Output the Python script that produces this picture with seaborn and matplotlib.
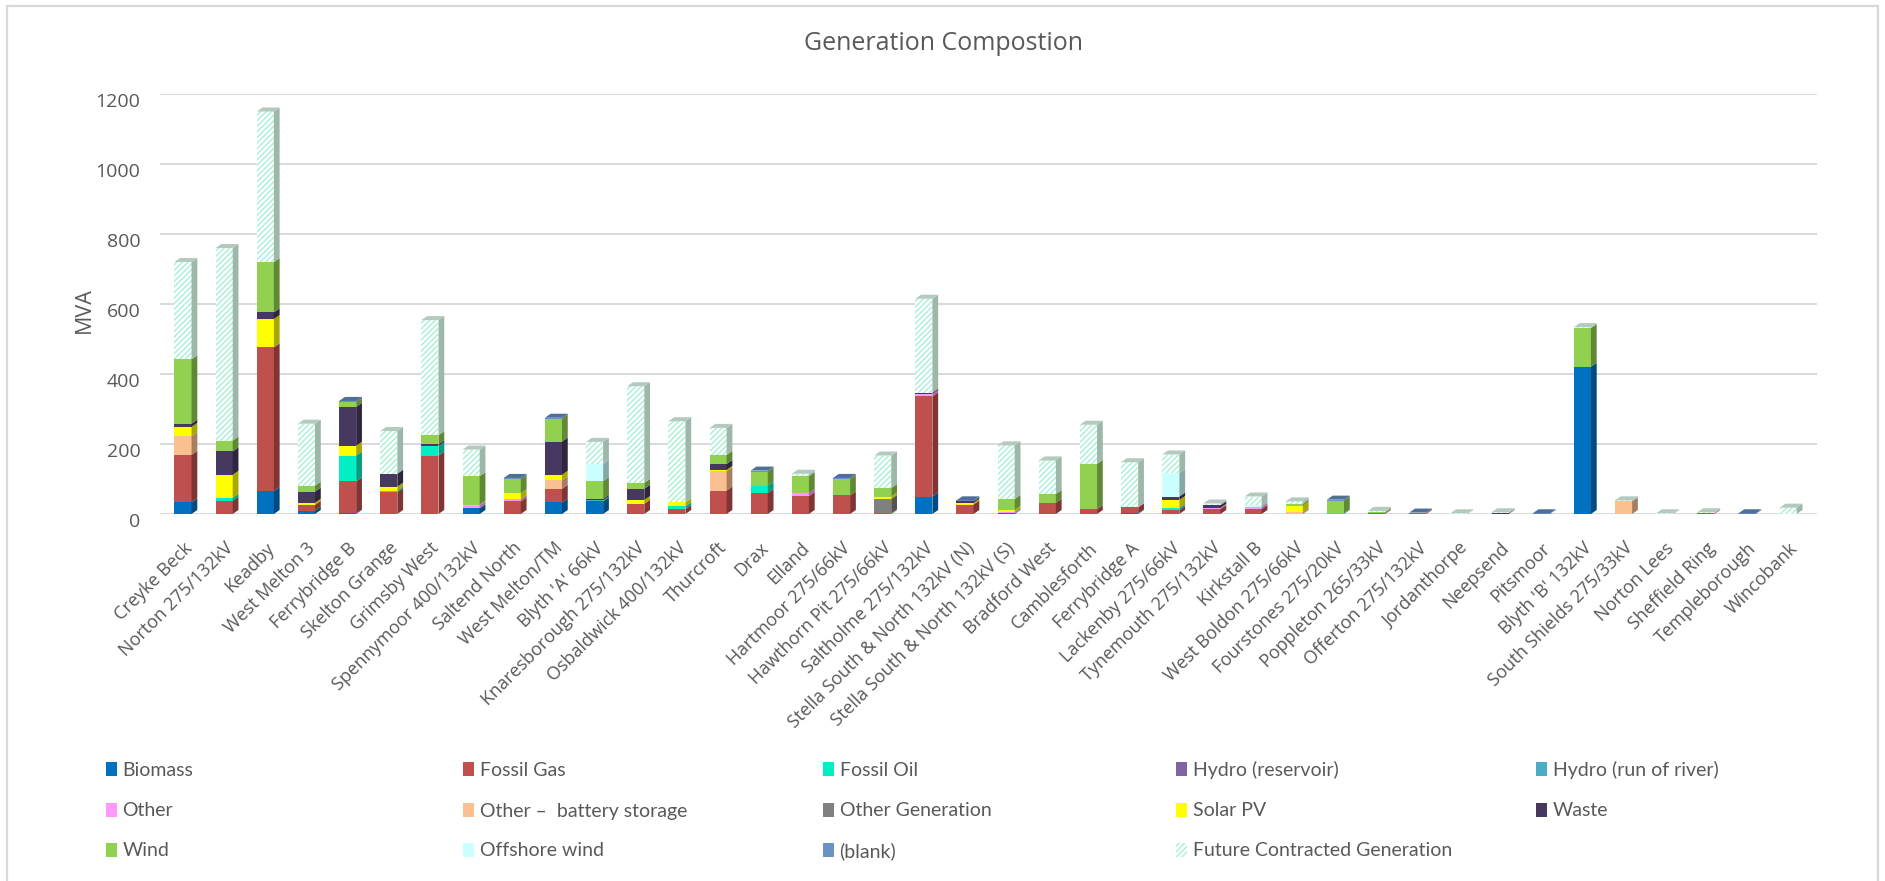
import numpy as np
import pandas as pd
import matplotlib
matplotlib.use("Agg")
import matplotlib.pyplot as plt
import matplotlib.colors as mcolors
import matplotlib.transforms as mtransforms
from matplotlib.patches import Patch, Polygon, Rectangle
import seaborn as sns

substations = [
    "Creyke Beck", "Norton 275/132kV", "Keadby", "West Melton 3", "Ferrybridge B",
    "Skelton Grange", "Grimsby West", "Spennymoor 400/132kV", "Saltend North",
    "West Melton/TM", "Blyth 'A' 66kV", "Knaresborough 275/132kV", "Osbaldwick 400/132kV",
    "Thurcroft", "Drax", "Elland", "Hartmoor 275/66kV", "Hawthorn Pit 275/66kV",
    "Saltholme 275/132kV", "Stella South & North 132kV (N)", "Stella South & North 132kV (S)",
    "Bradford West", "Camblesforth", "Ferrybridge A", "Lackenby 275/66kV",
    "Tynemouth 275/132kV", "Kirkstall B", "West Boldon 275/66kV", "Fourstones 275/20kV",
    "Poppleton 265/33kV", "Offerton 275/132kV", "Jordanthorpe", "Neepsend", "Pitsmoor",
    "Blyth 'B' 132kV", "South Shields 275/33kV", "Norton Lees", "Sheffield Ring",
    "Templeborough", "Wincobank",
]

# MVA per technology, one value per substation (same order as above)
biomass =       [33, 0, 65, 10, 2, 0, 0, 16, 0, 33, 36, 0, 0, 0, 0, 0, 0, 0, 50, 0, 2, 0, 0, 2, 0, 0, 0, 0, 0, 0, 0, 0, 0, 0, 421, 0, 0, 0, 0, 0]
fossil_gas =    [136, 38, 411, 16, 91, 62, 167, 0, 36, 39, 0, 29, 14, 67, 60, 51, 53, 3, 286, 27, 0, 32, 14, 17, 11, 14, 14, 0, 0, 2, 2, 0, 0, 0, 0, 0, 0, 2, 0, 0]
fossil_oil =    [0, 8, 0, 0, 74, 5, 27, 0, 0, 0, 0, 0, 8, 0, 21, 0, 0, 0, 0, 0, 0, 0, 0, 0, 6, 0, 0, 0, 2, 0, 0, 0, 0, 0, 0, 0, 0, 0, 0, 0]
hydro_res =     [0, 0, 0, 0, 0, 0, 0, 0, 0, 0, 0, 0, 0, 0, 0, 0, 0, 0, 0, 0, 0, 0, 0, 0, 0, 0, 0, 0, 0, 0, 0, 0, 0, 0, 0, 0, 0, 0, 0, 0]
hydro_ror =     [0, 0, 0, 0, 0, 0, 0, 0, 0, 0, 3, 0, 0, 0, 0, 0, 0, 0, 0, 0, 0, 0, 0, 0, 0, 0, 0, 0, 0, 0, 0, 0, 0, 0, 0, 0, 0, 0, 0, 0]
other =         [0, 0, 0, 0, 0, 0, 0, 8, 7, 0, 0, 0, 0, 0, 0, 9, 0, 0, 8, 0, 3, 0, 0, 0, 0, 4, 6, 0, 0, 0, 0, 0, 0, 0, 0, 0, 0, 0, 0, 0]
battery =       [53, 0, 0, 0, 0, 0, 0, 3, 0, 24, 0, 0, 0, 55, 0, 0, 0, 0, 0, 0, 0, 0, 0, 0, 0, 0, 0, 5, 0, 0, 0, 0, 0, 0, 0, 36, 0, 0, 0, 0]
other_gen =     [0, 0, 0, 0, 0, 0, 0, 0, 0, 0, 0, 0, 0, 0, 0, 0, 0, 40, 0, 0, 0, 0, 0, 0, 0, 0, 0, 0, 0, 0, 0, 0, 0, 0, 0, 0, 0, 0, 0, 0]
solar_pv =      [27, 66, 81, 6, 28, 11, 0, 0, 16, 16, 0, 11, 11, 4, 0, 0, 0, 7, 0, 5, 7, 0, 0, 0, 23, 0, 0, 19, 0, 0, 0, 0, 0, 0, 0, 0, 0, 0, 0, 0]
waste =         [9, 67, 19, 32, 111, 37, 5, 0, 0, 95, 4, 32, 0, 17, 0, 0, 0, 0, 3, 4, 0, 0, 0, 0, 10, 7, 0, 0, 0, 0, 0, 0, 2, 0, 0, 0, 0, 0, 0, 0]
wind =          [184, 31, 144, 17, 13, 0, 26, 81, 41, 65, 51, 17, 0, 26, 40, 48, 47, 24, 0, 0, 31, 25, 129, 0, 0, 0, 0, 5, 36, 3, 0, 0, 0, 0, 110, 0, 0, 0, 0, 0]
offshore_wind = [0, 0, 0, 0, 0, 0, 0, 0, 0, 0, 49, 0, 0, 0, 0, 0, 0, 0, 0, 0, 0, 0, 0, 0, 67, 0, 5, 0, 0, 0, 0, 0, 0, 0, 0, 0, 0, 0, 0, 0]
blank =         [0, 0, 0, 0, 4, 0, 0, 0, 3, 3, 0, 0, 0, 0, 3, 0, 3, 0, 0, 3, 0, 0, 0, 0, 0, 0, 0, 0, 3, 0, 2, 0, 0, 2, 0, 0, 0, 0, 2, 0]
future =        [278, 550, 430, 177, 0, 122, 329, 76, 0, 0, 63, 276, 232, 77, 0, 7, 0, 93, 268, 0, 153, 96, 112, 129, 53, 5, 25, 7, 0, 4, 0, 2, 3, 0, 3, 3, 2, 3, 0, 18]

series_names = [
    "Biomass", "Fossil Gas", "Fossil Oil", "Hydro (reservoir)", "Hydro (run of river)",
    "Other", "Other \u2013  battery storage", "Other Generation", "Solar PV", "Waste",
    "Wind", "Offshore wind", "(blank)", "Future Contracted Generation",
]
series_values = [
    biomass, fossil_gas, fossil_oil, hydro_res, hydro_ror, other, battery, other_gen,
    solar_pv, waste, wind, offshore_wind, blank, future,
]
series_colors = [
    "#0070C0", "#C0504D", "#00F0C3", "#8064A2", "#4BACC6", "#FF99FF", "#FAC090",
    "#808080", "#FFFF00", "#46385E", "#92D050", "#CCFFFF", "#6A92C4", "#FFFFFF",
]
HATCH_COLOR = "#A6F0D4"
FUTURE_SIDE = "#9DB8A9"
FUTURE_TOP = "#B4CABE"
TEXT = "#595959"

sns.set_theme(style="white")
plt.rcParams["font.family"] = ["Open Sans", "DejaVu Sans"]
plt.rcParams["hatch.linewidth"] = 1.0

W_PX, H_PX = 1885, 881
fig = plt.figure(figsize=(W_PX / 100, H_PX / 100), dpi=100)
ax = fig.add_axes([160 / W_PX, 1 - 514 / H_PX, (1817 - 160) / W_PX, (514 - 94) / H_PX])

df = pd.DataFrame(dict(zip(series_names, series_values)), index=substations)
cum = df.cumsum(axis=1)

BAR_W = 0.415
# tallest cumulative layer first, so each lower layer paints over the one above it
for k in reversed(range(len(series_names))):
    name = series_names[k]
    n0 = len(ax.patches)
    sns.barplot(x=substations, y=cum[name].values, color=series_colors[k], saturation=1,
                width=BAR_W, errorbar=None, linewidth=0, ax=ax)
    if name == "Future Contracted Generation":
        for p in ax.patches[n0:]:
            p.set_facecolor("white")
            p.set_hatch("//////")
            p.set_edgecolor(HATCH_COLOR)
            p.set_linewidth(0)

# depth faces give the columns their extruded look
DX, DY = 0.14, 11.5


def shade(c, f):
    r, g, b = mcolors.to_rgb(c)
    return (r * f, g * f, b * f)


for i in range(len(substations)):
    xr = i + BAR_W / 2
    xl = i - BAR_W / 2
    top_k = None
    for k, name in enumerate(series_names):
        v = df.iloc[i, k]
        if v <= 0:
            continue
        top_k = k
        t = cum.iloc[i, k]
        b = t - v
        side = FUTURE_SIDE if name.startswith("Future") else shade(series_colors[k], 0.66)
        ax.add_patch(Polygon([(xr, b), (xr + DX, b + DY), (xr + DX, t + DY), (xr, t)],
                             closed=True, facecolor=side, edgecolor="none", zorder=3))
    if top_k is not None:
        T = cum.iloc[i, top_k]
        name = series_names[top_k]
        if name.startswith("Future"):
            topc = FUTURE_TOP
        elif name == "(blank)":
            topc = "#4E6F98"
        else:
            topc = shade(series_colors[top_k], 0.85)
        ax.add_patch(Polygon([(xl, T), (xl + DX, T + DY), (xr + DX, T + DY), (xr, T)],
                             closed=True, facecolor=topc, edgecolor="none", zorder=3))

ax.set_xlim(-0.559, 39.7)
ax.set_ylim(0, 1200)
ax.set_yticks(range(0, 1201, 200))
ax.yaxis.grid(True, color="#D9D9D9", linewidth=1.4)
ax.xaxis.grid(False)
ax.set_axisbelow(True)
for s in ax.spines.values():
    s.set_visible(False)
ax.tick_params(axis="y", length=0, pad=14, labelsize=14, labelcolor=TEXT)
ax.tick_params(axis="x", length=0, pad=18, labelsize=13, labelcolor=TEXT)
ax.set_xticks(range(len(substations)))
ax.set_xticklabels(substations, rotation=45, ha="right", rotation_mode="anchor")
ax.set_xlabel("")
ax.set_ylabel("")
# value labels sit at the front edge of the floor, slightly below the back-wall gridlines
ydrop = mtransforms.ScaledTranslation(0, -6 / 100, fig.dpi_scale_trans)
for lab in ax.get_yticklabels():
    lab.set_transform(lab.get_transform() + ydrop)

fig.text(944 / W_PX, 1 - 44 / H_PX, "Generation Compostion", ha="center", va="center",
         fontsize=18, color=TEXT)
fig.text(84 / W_PX, 1 - 310 / H_PX, "MVA", ha="center", va="center", rotation=90,
         fontsize=15.5, color=TEXT)

# legend: five columns, filled row by row
col_x = [106, 463, 823, 1176, 1536]
row_y = [770, 811, 851]
for k, name in enumerate(series_names):
    r, c = divmod(k, 5)
    if name.startswith("Future"):
        h = Patch(facecolor="white", hatch="//////", edgecolor=HATCH_COLOR, linewidth=0)
    else:
        h = Patch(facecolor=series_colors[k], edgecolor="none")
    leg = fig.legend([h], [name], loc="center left",
                     bbox_to_anchor=(col_x[c] / W_PX, 1 - row_y[r] / H_PX),
                     frameon=False, borderpad=0, borderaxespad=0,
                     handlelength=0.55, handleheight=0.75, handletextpad=0.3,
                     prop={"family": ["Lato", "DejaVu Sans"], "size": 14})
    for t in leg.get_texts():
        t.set_color(TEXT)

fig.add_artist(Rectangle((7 / W_PX, -0.05), (1878 - 7) / W_PX, 1.05 - 6 / H_PX,
                         transform=fig.transFigure, fill=False, edgecolor="#D9D9D9",
                         linewidth=1.6))

fig.savefig("out.png", dpi=100, facecolor="white")
